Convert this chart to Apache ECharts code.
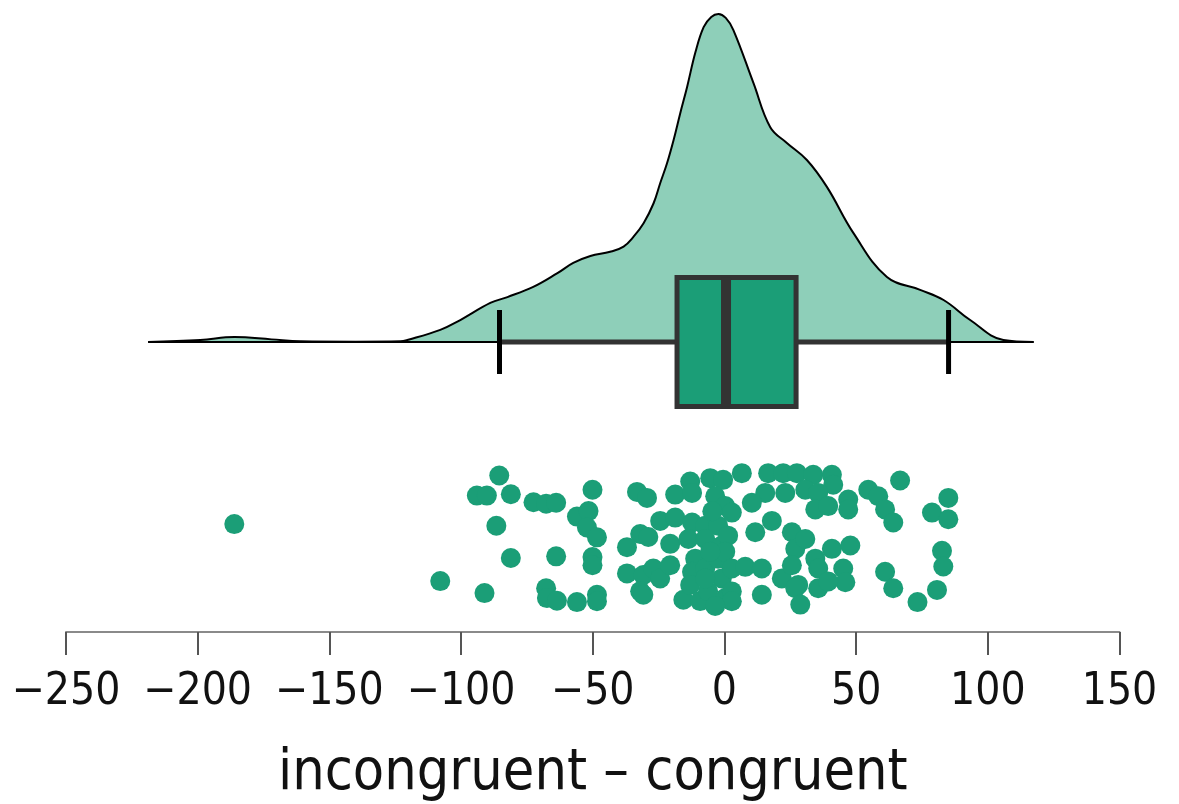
<!DOCTYPE html>
<html>
<head>
<meta charset="utf-8">
<script src="https://cdn.jsdelivr.net/npm/echarts@6/dist/echarts.min.js"></script>
<style>html,body{margin:0;padding:0;background:#fff}#c{width:1179px;height:804px}</style>
</head>
<body>
<div id="c"></div>
<script>
// x-axis tick range
const xMin = -250, xMax = 150, xStep = 50;
const axisTitle = 'incongruent \u2013 congruent';

// density curve (x value, relative density, peak = 1)
const densX = [-218.8,-199,-186,-172,-161,-140,-123,-120.4,-107.9,-100.3,-88.9,-82.4,-72.6,-63.4,-57.4,-50.9,-43.4,-38.3,-34.5,-30.7,-26.9,-24.4,-21.8,-19.3,-16.8,-14.2,-11,-7.9,-5,-2.3,0.5,3.4,11,17.4,23.7,31.3,38.9,49,61.7,74.3,83.2,93.3,105.9,117.4];
const densY = [0,0.006,0.015,0.008,0.002,0.001,0.002,0.006,0.037,0.067,0.119,0.137,0.168,0.210,0.241,0.262,0.275,0.291,0.321,0.362,0.423,0.484,0.545,0.616,0.697,0.777,0.884,0.960,0.991,1.0,0.988,0.951,0.790,0.655,0.607,0.555,0.473,0.332,0.198,0.159,0.128,0.067,0.006,0];

// box plot summary: [whisker low, Q1, median, Q3, whisker high]
const boxStats = [-85.4, -18.0, 0.6, 27.2, 85.1];

// raw observations and their vertical jitter (0..1)
const pointX = [-186.1,-107.9,-91.1,-94.0,-90.2,-85.5,-81.1,-86.6,-81.1,-72.5,-67.7,-63.9,-63.9,-67.7,-67.4,-63.6,-56.0,-50.1,-56.0,-51.6,-52.2,-48.4,-50.1,-50.1,-48.4,-48.4,
 -33.2,-29.4,-18.7,-13.0,-5.4,-0.5,-24.4,-32.0,-28.9,-37.0,-20.6,-37.0,-30.8,-27.0,-24.4,-20.6,-32.0,-30.8,-15.6,-9.2,
 -12.3,-3.5,0.3,-18.7,-12.3,-7.3,-2.4,-13.7,-7.3,-1.0,-11.1,-12.3,-13.0,-7.3,-2.4,-1.0,-6.2,0.3,-7.3,
 6.6,16.6,22.3,27.5,15.5,23.1,10.4,2.8,18.0,11.7,25.6,1.4,26.9,0.3,2.8,7.9,14.2,21.8,25.6,28.0,2.8,14.2,26.9,2.8,28.8,
 33.7,40.8,41.3,30.7,35.6,34.5,39.4,47.0,47.0,54.6,30.7,34.5,35.6,40.8,47.8,45.1,45.9,35.6,39.4,
 66.7,58.4,61.0,64.1,85.0,78.8,85.0,82.6,83.1,61.0,64.1,80.7,73.3,-4.6,-5.4,-3.5];
const pointJ = [0.646,0.305,0.233,0.817,0.817,0.937,0.825,0.636,0.443,0.777,0.768,0.774,0.453,0.262,0.203,0.187,0.179,0.852,0.691,0.724,0.626,0.567,0.449,0.400,0.223,0.184,
 0.839,0.803,0.823,0.901,0.921,0.911,0.665,0.587,0.569,0.508,0.528,0.351,0.341,0.380,0.321,0.400,0.244,0.223,0.193,0.185,
 0.833,0.813,0.754,0.685,0.656,0.636,0.636,0.557,0.557,0.518,0.439,0.361,0.282,0.380,0.439,0.321,0.244,0.203,0.321,
 0.951,0.951,0.951,0.951,0.833,0.833,0.774,0.715,0.665,0.597,0.597,0.577,0.498,0.481,0.380,0.390,0.380,0.321,0.400,0.282,0.243,0.223,0.262,0.184,0.164,
 0.941,0.941,0.882,0.852,0.833,0.734,0.754,0.793,0.734,0.852,0.557,0.439,0.380,0.498,0.518,0.380,0.298,0.262,0.303,
 0.907,0.813,0.734,0.656,0.803,0.715,0.675,0.486,0.392,0.361,0.262,0.252,0.179,0.723,0.481,0.156];

const LIGHT = '#8ecfb9', DARK = '#1b9e77';
const FONT = '"DejaVu Sans Condensed", "DejaVu Sans", sans-serif';

const chart = echarts.init(document.getElementById('c'), null, {renderer: 'canvas'});
const densData = densX.map((x, i) => [x, densY[i]]);
const ptsData = pointX.map((x, i) => [x, pointJ[i]]);

chart.setOption({
  animation: false,
  grid: [
    {left: 66, right: 59.5, top: 14, bottom: 462},
    {left: 66, right: 59.5, top: 465, bottom: 169.6}
  ],
  xAxis: [
    {gridIndex: 0, type: 'value', min: xMin, max: xMax, interval: xStep, show: false},
    {gridIndex: 1, type: 'value', min: xMin, max: xMax, interval: xStep,
     splitLine: {show: false},
     axisLine: {show: true, lineStyle: {color: '#8a8a8a', width: 2}},
     axisTick: {show: true, length: 23, lineStyle: {color: '#555', width: 2}},
     axisLabel: {fontSize: 44, color: '#111', fontFamily: FONT, margin: 39,
                 formatter: v => String(v).replace('-', '\u2212')},
     name: axisTitle, nameLocation: 'middle', nameGap: 114,
     nameTextStyle: {fontSize: 57, color: '#111', fontFamily: FONT}}
  ],
  yAxis: [
    {gridIndex: 0, type: 'value', min: 0, max: 1, show: false},
    {gridIndex: 1, type: 'value', min: 0, max: 1, show: false}
  ],
  series: [
    {type: 'line', xAxisIndex: 0, yAxisIndex: 0, data: densData, smooth: 0.4, symbol: 'none',
     lineStyle: {color: '#000', width: 2}, areaStyle: {color: LIGHT, opacity: 1}, z: 1},
    {type: 'line', xAxisIndex: 0, yAxisIndex: 0, data: [[densX[0], 0], [densX[densX.length-1], 0]],
     symbol: 'none', lineStyle: {color: '#000', width: 2}, z: 2},
    {type: 'custom', xAxisIndex: 0, yAxisIndex: 0, clip: false, z: 3,
     data: [boxStats],
     renderItem: function (params, api) {
       const lo = api.coord([api.value(0), 0]);
       const q1 = api.coord([api.value(1), 0]);
       const md = api.coord([api.value(2), 0]);
       const q3 = api.coord([api.value(3), 0]);
       const hi = api.coord([api.value(4), 0]);
       const y = lo[1], hb = 64.5, hc = 32;
       return {type: 'group', children: [
         {type: 'line', shape: {x1: lo[0], y1: y, x2: q1[0], y2: y}, style: {stroke: '#333', lineWidth: 5}},
         {type: 'line', shape: {x1: q3[0], y1: y, x2: hi[0], y2: y}, style: {stroke: '#333', lineWidth: 5}},
         {type: 'rect', shape: {x: q1[0], y: y - hb, width: q3[0] - q1[0], height: 2 * hb},
          style: {fill: DARK, stroke: '#333', lineWidth: 5}},
         {type: 'line', shape: {x1: md[0], y1: y - hb, x2: md[0], y2: y + hb}, style: {stroke: '#333', lineWidth: 10}},
         {type: 'line', shape: {x1: lo[0], y1: y - hc, x2: lo[0], y2: y + hc}, style: {stroke: '#000', lineWidth: 5}},
         {type: 'line', shape: {x1: hi[0], y1: y - hc, x2: hi[0], y2: y + hc}, style: {stroke: '#000', lineWidth: 5}}
       ]};
     }},
    {type: 'scatter', xAxisIndex: 1, yAxisIndex: 1, data: ptsData, symbolSize: 20,
     itemStyle: {color: DARK, opacity: 1}, z: 4}
  ]
});
</script>
</body>
</html>
